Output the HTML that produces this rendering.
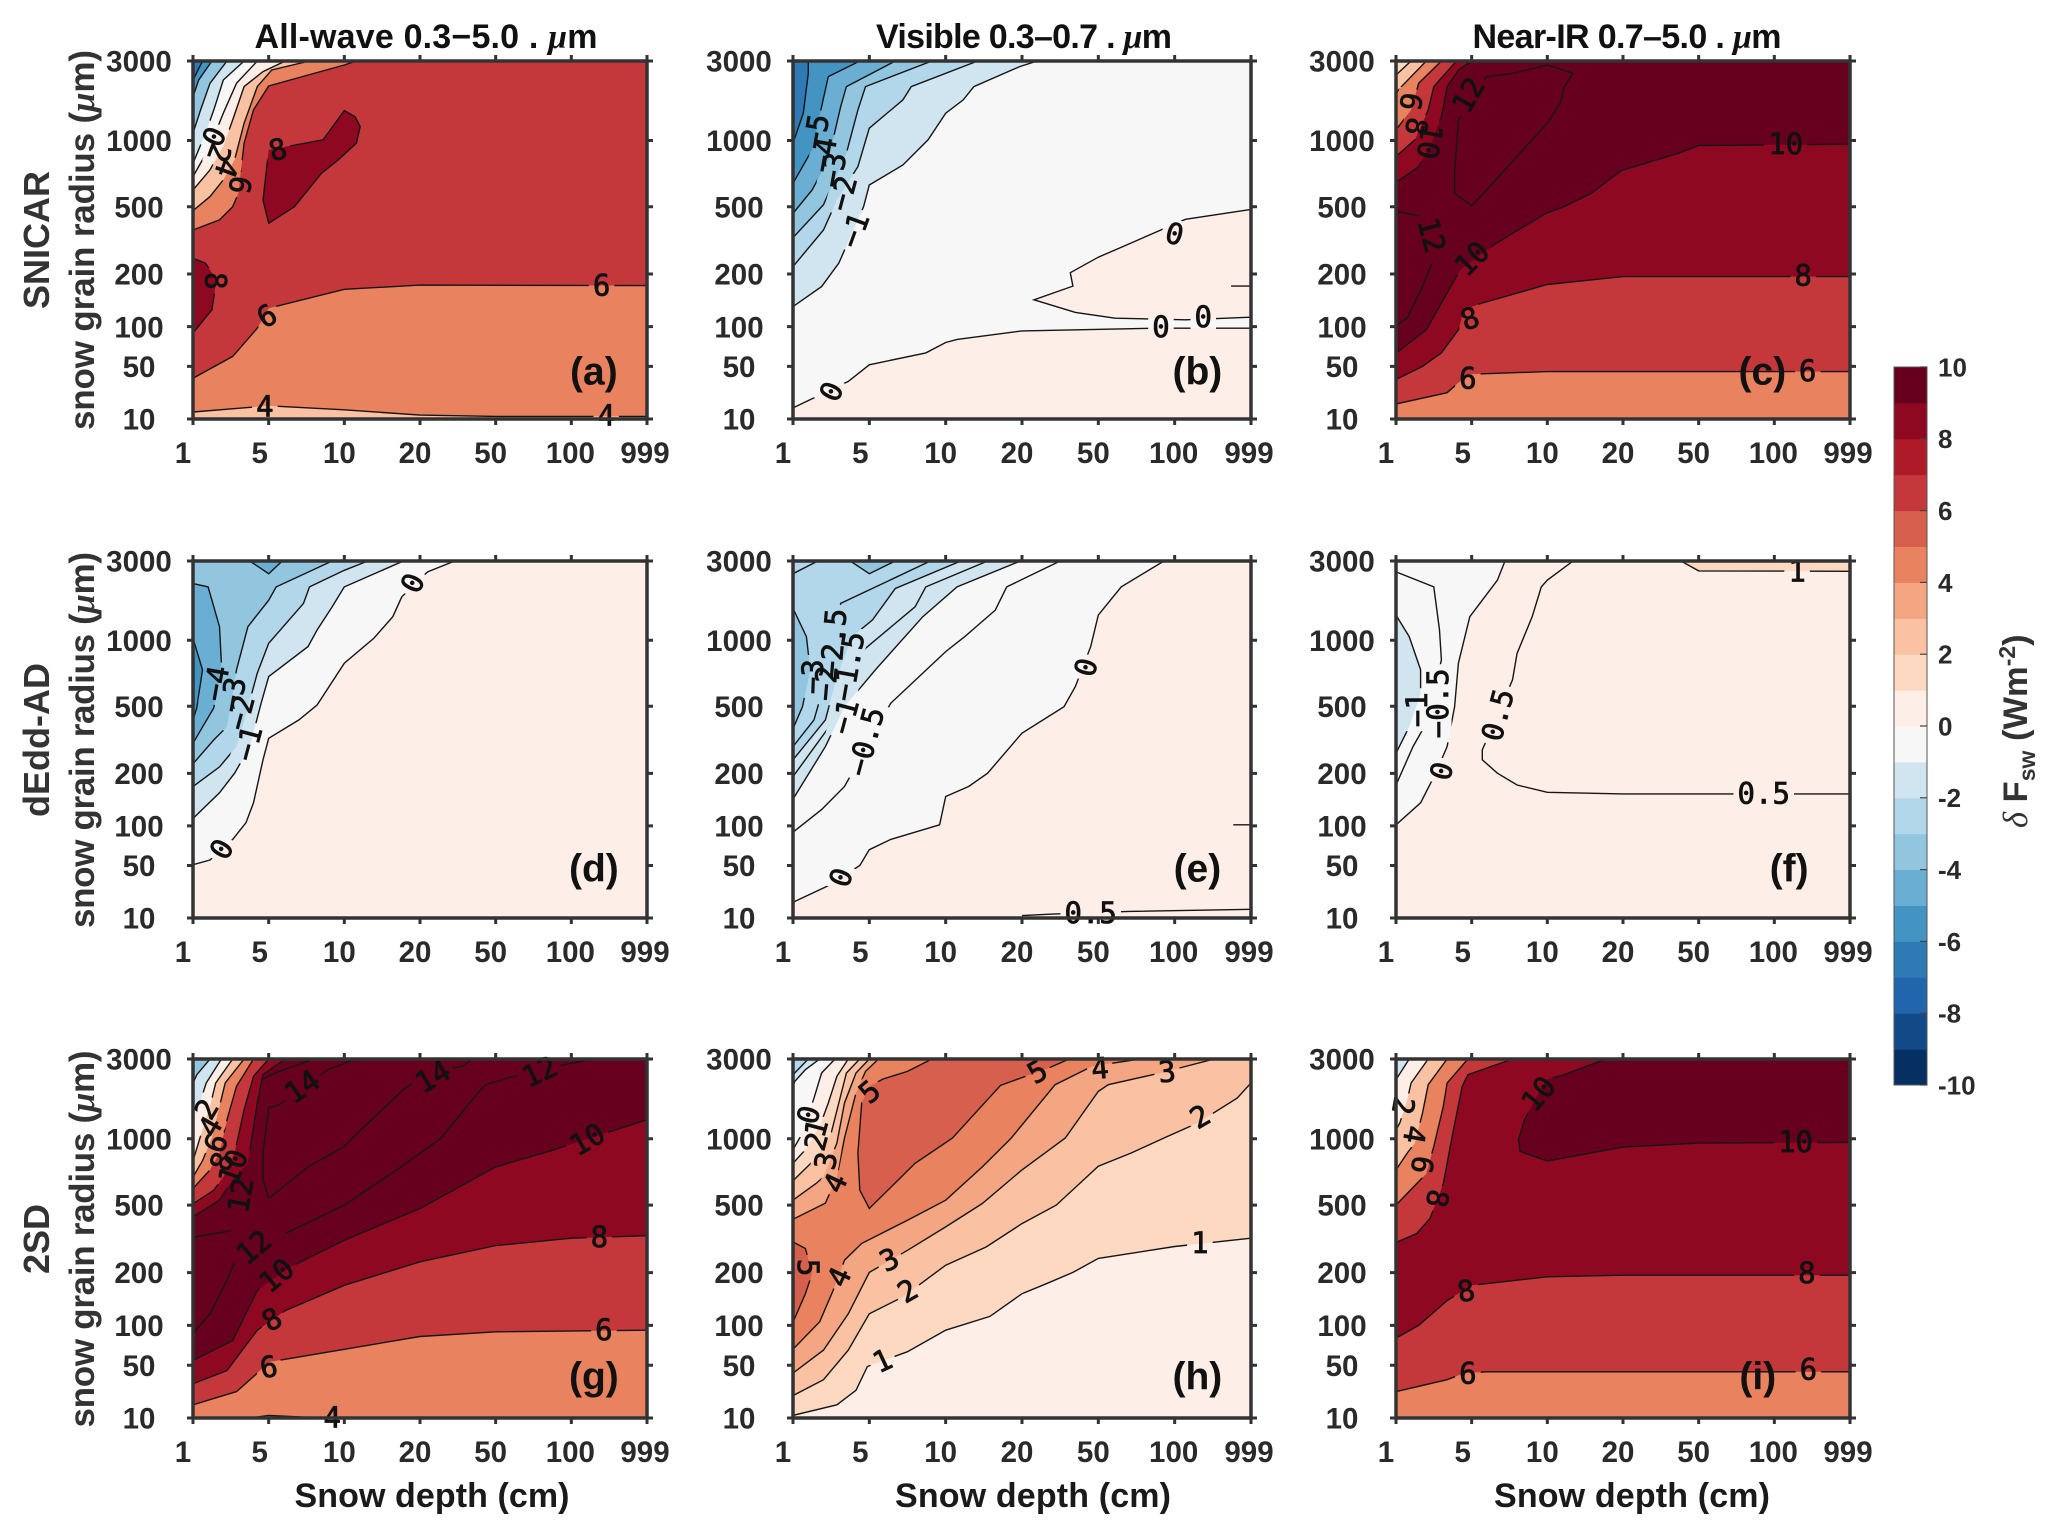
<!DOCTYPE html>
<html lang="en">
<head>
<meta charset="utf-8">
<title>Snow grain radius vs snow depth: shortwave flux differences</title>
<style>
html,body{margin:0;padding:0;background:#fff;width:2067px;height:1538px;overflow:hidden}
svg{display:block}
text{font-family:"Liberation Sans",sans-serif}
.tick{font-size:29.5px;font-weight:700;fill:#2a2a2a}
.head{font-size:34px;font-weight:700;fill:#111}
.side{font-size:35px;font-weight:700;fill:#333}
.row{font-size:36px;font-weight:700;fill:#333}
.xt{font-size:34px;font-weight:700;fill:#1a1a1a}
.cl{font-family:"DejaVu Sans Mono","Liberation Mono",monospace;font-size:29px;fill:#111;stroke:#111;stroke-width:.8px}
.let{font-size:39px;font-weight:700;fill:#111}
.cbt{font-size:26px;font-weight:700;fill:#2a2a2a}
.mu{font-family:"Liberation Serif",serif;font-style:italic}
</style>
</head>
<body>
<svg id="fig" xmlns="http://www.w3.org/2000/svg" width="2067" height="1538" viewBox="0 0 2067 1538">
  <rect width="2067" height="1538" fill="#fff"/>
  <text class="head" x="426" y="48" text-anchor="middle" textLength="343">All-wave  0.3−5.0 . <tspan class="mu">μ</tspan>m</text>
  <text class="head" x="1024" y="48" text-anchor="middle" textLength="296">Visible 0.3–0.7 . <tspan class="mu">μ</tspan>m</text>
  <text class="head" x="1627" y="48" text-anchor="middle" textLength="309">Near-IR 0.7–5.0 . <tspan class="mu">μ</tspan>m</text>

  <text class="row" transform="translate(49 240) rotate(-90)" text-anchor="middle">SNICAR</text>
  <text class="row" transform="translate(49 740) rotate(-90)" text-anchor="middle">dEdd-AD</text>
  <text class="row" transform="translate(49 1239) rotate(-90)" text-anchor="middle">2SD</text>
  <text class="side" transform="translate(94 240) rotate(-90)" text-anchor="middle" textLength="380">snow grain radius (<tspan class="mu">μ</tspan>m)</text>
  <text class="side" transform="translate(94 740) rotate(-90)" text-anchor="middle" textLength="376">snow grain radius (<tspan class="mu">μ</tspan>m)</text>
  <text class="side" transform="translate(94 1239) rotate(-90)" text-anchor="middle" textLength="377">snow grain radius (<tspan class="mu">μ</tspan>m)</text>

  <text class="xt" x="432" y="1507" text-anchor="middle" textLength="275">Snow depth (cm)</text>
  <text class="xt" x="1033" y="1507" text-anchor="middle" textLength="276">Snow depth (cm)</text>
  <text class="xt" x="1632" y="1507" text-anchor="middle" textLength="276">Snow depth (cm)</text>

  <text transform="translate(2027 828) rotate(-90)" font-weight="700" font-size="34.5" fill="#333"><tspan class="mu" font-weight="400">δ</tspan> F<tspan font-size="23" dy="8">sw</tspan><tspan dy="-8">  (Wm</tspan><tspan font-size="23" dy="-12">-2</tspan><tspan dy="12">)</tspan></text>
  <g id="panels"></g>
  <g id="colorbar"></g>
</svg>
<script>
// ---- axis ticks and colour scale ----
const depthTicks = [1, 5, 10, 20, 50, 100, 999];
const radiusTicks = [10, 50, 100, 200, 500, 1000, 3000];
const radiusAxisStops = [0, 0.147, 0.258, 0.405, 0.593, 0.778, 1];
const colorbarTicks = [10, 8, 6, 4, 2, 0, -2, -4, -6, -8, -10];
const bandColors = ["#053061","#124a87","#2166ac","#2f79b5","#4393c3","#6aaed4","#92c5de","#b2d6ea","#d1e5f0","#f7f7f7",
                    "#fdeee7","#fed9c2","#fac1a2","#f4a582","#e8825f","#d6604d","#c4383c","#ae1a27","#8f0821","#67001f"];
const TL = [1, 3000], TR = [999, 3000], BR = [999, 10], BL = [1, 10];

// ---- contour vertices as [depth cm, radius um]; labels as [text, depth, radius, angle] ----
// Panel a
const aLine6Top = [[11.6,3000],[10,2900],[5,2370],[4.2,1770],[3.7,980],[3.4,601],[3.1,500],[2.4,441],[1,396]];
const aLine4Top = [[7.7,3000],[5.2,2774],[4.4,2355],[3.7,1435],[3.2,854],[2.6,702],[1.9,576],[1,482]];
const aLine2Top = [[6.1,3000],[4.7,2732],[3.7,2355],[3.1,1518],[2.6,955],[1.9,778],[1,626]];
const aLine0Top = [[4.4,3000],[3.3,2440],[2.6,1686],[1.9,955],[1,727]];
const aLineM1 = [[3.7,3000],[2.6,2523],[2.1,1770],[1.66,1184],[1,828]];
const aLineM2 = [[2.8,3000],[1.9,2440],[1.4,1770],[1,1184]];
const aLineM4 = [[2,3000],[1.3,2523],[1,2104]];
const aLineM6 = [[1.5,3000],[1,2523]];
const aIsland8 = [[5,929],[8.6,1016],[10,1753],[11.4,1602],[12.1,1351],[11.6,980],[9.6,854],[8.5,753],[6.7,500],[5,426],[4.7,550],[4.9,803],[5,929]];
const aLeft8 = [[1,270],[1.66,248],[2.25,189],[2,132],[1,92]];
const aLower6 = [[1,41],[3.1,62.5],[4.4,98],[5,135],[10,171],[20,179],[999,178]];
const aLower4 = [[1,15.3],[5,20],[10,17],[20,13],[50,12],[999,12]];
const aLabels = [["0",2.1,1100,115],["2",2.4,904,110],["4",2.8,790,110],["6",3.5,664,100],["8",5.6,934,-15],["8",2.2,187,90],["6",4.9,121,-30],["6",460,179,0],["4",4.8,20,0],["4",514,13,0]];

// Panel b
const bLineM1 = [[26,3000],[19.7,2858],[13.7,2355],[12.3,2020],[10,1686],[8.85,1016],[7.2,815],[5,664],[4.7,500],[3.4,248],[2.5,176],[1,138]];
const bLineM2 = [[14.2,3000],[7.75,2355],[7.2,2020],[5,1309],[4.4,803],[3.3,550],[2.6,396],[1,233]];
const bLineM3 = [[9.1,3000],[4.8,2355],[4.4,1770],[3.8,904],[2.6,515],[1,362]];
const bLineM4 = [[6.7,3000],[3.8,2355],[3.5,1853],[2.85,854],[2,626],[1,470]];
const bLineM5 = [[4.5,3000],[2.85,2607],[2.5,1853],[2,929],[1,677]];
const bLineM6 = [[1.8,3000],[1.8,2690],[1.54,1686],[1,980]];
const bLobe0 = [[999,488],[226,444],[66,322],[50,275],[39,206],[40,177],[24.7,151],[41,127],[61,116],[226,113],[999,118]];
const bLower0 = [[1,18.4],[3.9,38.6],[5,52],[8.7,67],[10,80],[11.5,84],[20,94.6],[88,98],[999,98]];
const bSliver0 = [[765,177],[999,177]];
const bLabels = [["−5",2.2,1225,-80],["−4",2.6,892,-80],["−3",3.1,778,-80],["−2",3.6,601,-75],["−1",4.2,396,-70],["0",3,31,-65],["0",100,380,15],["0",91,100,0],["0",437,119,0]];

// Panel c
const cLower10 = [[1,66.6],[2.6,96],[4.1,189],[4.4,218],[6.6,336],[9.9,470],[12.2,500],[15.8,601],[19.8,773],[42,904],[50,962],[999,972]];
const cLower8 = [[1,40],[2.4,50],[3.4,67],[4.3,96],[4.6,132],[5.6,144],[10,180],[20,195],[999,195]];
const cLower6 = [[1,21.4],[3.7,30],[4.8,44],[10,46],[999,46]];
const cUpper10 = [[5,3000],[4.3,2774],[3.7,2355],[3.4,1602],[2.8,955],[2.2,803],[1,682]];
const cUpper8 = [[4.2,3000],[3,2355],[2.7,1770],[2,1016],[1,879]];
const cUpper6 = [[3.4,3000],[2.2,2440],[1.8,1770],[1,1268]];
const cUpper4 = [[2.6,3000],[1.2,2314],[1,2188]];
const cUpper2 = [[1.8,3000],[1,2648]];
const cIsland12 = [[6,2607],[7.5,2674],[10,2900],[13.4,2690],[12.2,2340],[11.7,1937],[10,1435],[8.6,955],[6.8,727],[5,507],[4.1,601],[4.1,753],[4.3,1518],[6,2607]];
const cLeft12a = [[1,481],[2.4,455]];
const cLeft12b = [[2.9,248],[2.4,176],[1.6,117],[1,102]];
const cLabels = [["6",1.8,1979,100],["8",2.1,1351,100],["10",2.8,992,100],["12",4.8,2146,-60],["12",2.9,374,75],["10",5,270,-45],["8",4.9,116,-20],["6",4.8,41,0],["10",235,975,0],["8",442,198,0],["6",496,47,0]];

// Panel d
const dLine0 = [[33.8,3000],[23,2724],[17.6,2096],[16.4,1594],[13.9,1050],[10,826],[8.2,510],[7,439],[5,357],[4.7,261],[4.2,144],[3.8,106],[3.1,83],[1.9,57],[1,51]];
const dLineM1 = [[17.8,3000],[10,2347],[9.2,1845],[8.2,1259],[7.6,952],[5,725],[4.6,523],[4,320],[3.2,201],[2.4,163],[1,114]];
const dLineM2 = [[13.1,3000],[10,2766],[7.7,2347],[7.3,1929],[5,977],[4.4,751],[3.8,463],[3.3,320],[2.4,229],[1,175]];
const dLineM3 = [[9.2,3000],[5.5,2347],[5,2012],[3.9,1343],[3.3,776],[2.8,409],[2.1,350],[1,243]];
const dTopIsland = [[4,3000],[5,2680],[5.9,3000]];
const dLineM4 = [[1,2431],[1.8,2347],[2.4,1343],[2.5,826],[2.1,493],[1,335]];
const dLineM5 = [[1,1050],[1.5,776],[1.2,493],[1,439]];
const dLabels = [["0",19,2448,-65],["−4",2.2,674,-80],["−3",3.1,588,-80],["−2",3.5,472,-75],["−1",3.9,335,-75],["0",2.5,71,-60]];

// Panel e
const eLine0 = [[93,3000],[65,2347],[50,1636],[47,952],[41,650],[36.5,498],[20,380],[15.5,201],[13,175],[10,156],[9.6,102],[6.4,83],[5,70],[4.5,50],[2.9,35],[1,22]];
const eLineM05 = [[35,3000],[18,2347],[16.5,1761],[12.5,1092],[10,914],[6.4,523],[3.7,175],[2.5,131],[1,92]];
const eLineM1 = [[19.8,3000],[11.5,2347],[8.5,1594],[5.4,776],[3.7,498],[2.7,320],[1,151]];
const eLineM15 = [[15.5,3000],[8.7,2347],[8,1845],[4.8,939],[2.9,409],[1,194]];
const eLineM2 = [[12,3000],[6.7,2305],[5.2,1510],[4.1,1092],[3.3,725],[2.7,439],[1,261]];
const eLineM25 = [[9,3000],[3.5,1929],[3.1,901],[2.1,439],[1,320]];
const eLineM3 = [[1,1803],[1.7,1092],[1.9,776],[1.5,498],[1,400]];
const eTopIsland = [[4,3000],[5,2680],[6.7,3000]];
const eCorner = [[1,2680],[2.3,3000]];
const eBottom05 = [[20,11.8],[32,13],[70,15],[999,16.6]];
const eRightStub = [[790,102],[999,102]];
const eLabels = [["0",3.5,41,-70],["0",45,795,-75],["−0.5",4.8,342,-75],["−1",3.7,454,-75],["−1.5",3.9,803,-80],["−2",2.7,674,-85],["−2.5",3.1,977,-85],["−3",2,725,-88],["0.5",47,14,0]];

// Panel f
const fLine0 = [[7.2,3000],[6.7,2515],[4.9,1594],[4.3,826],[4.1,498],[3.7,320],[3.1,201],[2.3,144],[1,102]];
const fLineM05 = [[1,2724],[3,2347],[3.3,1259],[3.4,851],[2.7,439],[1.9,320],[1,178]];
const fLineM1 = [[1,1636],[1.7,1092],[2.3,776],[2.3,598],[1.7,409],[1,290]];
const fLine05 = [[13.4,3000],[10,2515],[9.6,2347],[9,1594],[8,901],[7.7,700],[5.7,305],[5.7,261],[6.7,201],[8,178],[10,164],[20,161],[999,161]];
const fLine1 = [[43,3000],[50,2749],[999,2740]];
const fLabels = [["1",370,2749,0],["0.5",93,163,0],["0.5",6.7,462,-75],["−0.5",3.2,523,-90],["−1",2.1,485,-90],["0",3.4,211,-75]];

// Panel g
const gLower10 = [[1,56],[3.1,81],[4.4,166],[6.4,225],[10,344],[20,485],[50,788],[85,904],[999,1477]];
const gLower8 = [[1,36],[2.8,46],[4.4,94],[6.1,128],[10,176],[20,248],[50,320],[100,353],[999,364]];
const gLower6 = [[1,20],[3.3,30],[4.4,44],[5,54],[10,70],[20,86],[50,92],[999,94]];
const gBottom4 = [[4,10],[5,12],[8.5,10]];
const gLeft12a = [[1,90],[1.9,122],[2.7,179],[3.2,243]];
const gLeft12b = [[1,357],[3,386]];
const gRight12 = [[6.1,374],[10,500],[17.5,788],[28.4,1018],[44,2230],[46,2355],[58,2523],[90,2816],[352,3000]];
const gInner14a = [[5,550],[7.6,788],[10,942],[12.2,1225],[17.8,2230],[23,2690],[37,2816],[40.7,3000]];
const gInner14b = [[5,550],[4.7,691],[4.7,892],[5,1770],[5.7,1853],[8.9,2732],[11.6,3000]];
const gInner14c = [[4.6,2480],[5.5,2660],[8,3000]];
const gUpper10 = [[6.1,3000],[4.7,2607],[4.4,1895],[3.9,815],[3.1,691],[2.4,538],[1,448]];
const gUpper8 = [[5,3000],[4.2,2565],[3.7,1728],[3.2,892],[2.6,711],[2.1,612],[1,510]];
const gUpper6 = [[4.2,3000],[3.3,2314],[2.8,1477],[2.4,892],[1.9,765],[1,626]];
const gUpper4 = [[3.7,3000],[2.7,2397],[2.4,1811],[2,1018],[1.5,834],[1,712]];
const gUpper2 = [[3.1,3000],[2.2,2397],[1.9,1811],[1.5,1225],[1,834]];
const gUpper0 = [[2.5,3000],[1.7,2397],[1.3,1811],[1,1477]];
const gUpperM2 = [[1.9,3000],[1.2,2607],[1,2397]];
const gLabels = [["2",1.7,1745,-60],["4",1.9,1309,-60],["6",2.2,967,-70],["8",2.5,829,-70],["10",3.1,788,-70],["12",3.5,575,-80],["12",4.2,314,-40],["10",5.5,195,-40],["8",5.2,112,-30],["6",5,49,-10],["4",9.2,10.7,0],["14",7.2,2314,-35],["14",25,2565,-30],["12",79,2690,-25],["10",289,997,-30],["8",433,360,0],["6",487,95,0]];

// Panel h
const hLine1 = [[1,12],[3.3,20],[4.3,31],[4.9,49],[7.5,67],[10,94],[15.8,117],[20,160],[29.6,179],[40,201],[50,263],[100,316],[999,353]];
const hLine2 = [[1,27],[2.6,39],[3.9,69],[5,122],[7.2,154],[10,233],[15.3,314],[20,418],[33.5,500],[50,793],[71.5,892],[93,1018],[370,1393],[837,2020],[999,2397]];
const hLine3 = [[1,44],[2.6,69],[3.9,122],[5,201],[7.5,299],[10,403],[14.8,512],[20,765],[37,1018],[50,2188],[56.5,2355],[90.5,2648],[567,3000]];
const hLine4 = [[1,70],[2.4,107],[3.1,166],[3.7,255],[4.6,330],[7.5,433],[10,537],[14.8,788],[18.6,1018],[33,2355],[47.6,2816],[77,3000]];
const hLobeTop5 = [[38.6,3000],[30.5,2774],[17.2,2339],[10.9,1018],[8,815],[5,485],[4.5,612],[4.4,892],[4.6,1895],[5,2314],[5.9,2498],[7.5,2690],[9.1,3000]];
const hLobeLeft5 = [[1,336],[1.65,307],[2,198],[1.65,160],[1,106]];
const hUpper4 = [[5.6,3000],[4.8,2690],[4.3,2146],[3.7,1018],[3.3,712],[2.7,515],[1,437]];
const hUpper3 = [[5,3000],[4.3,2648],[3.7,1895],[3.3,967],[2.6,712],[2.2,662],[1,538]];
const hUpper2 = [[4.5,3000],[3.8,2648],[3.4,1895],[3,1142],[2.3,866],[1,684]];
const hUpper1 = [[3.9,3000],[3.3,2565],[2.85,1895],[2.4,1309],[1.65,917],[1,815]];
const hUpper0 = [[3.2,3000],[2.5,2648],[2.1,2020],[1.5,1142],[1,917]];
const hUpperM1 = [[2.4,3000],[1.65,2732],[1.1,2440],[1,2314]];
const hUpperM2 = [[1.8,3000],[1,2607]];
const hLabels = [["5",1.8,222,90],["4",3.4,192,-65],["3",6.3,259,-25],["2",7.5,166,-30],["1",5.85,56,-25],["5",5,2188,-40],["4",3.2,668,-65],["3",2.7,834,-80],["2",2.2,980,-75],["0",1.8,1602,-75],["1",2.2,1268,-75],["5",26,2690,-30],["4",51,2774,-5],["3",95,2690,-5],["2",397,1560,-30],["1",397,333,0]];

// Panel i
const iIsland10 = [[17.8,3000],[12.2,2607],[9.9,2480],[8.5,1477],[8.1,992],[8.2,904],[10,832],[20,937],[50,967],[999,972]];
const iLower8 = [[1,84],[2.2,100],[3.7,147],[5,176],[10,192],[20,195],[999,195]];
const iLower6 = [[1,30],[3.7,39],[4.6,44],[6,45],[999,45]];
const iUpper8 = [[7.7,3000],[4.8,2607],[4.5,2314],[4,1142],[3.5,662],[2.8,441],[2.1,374],[1,334]];
const iUpper6 = [[4.8,3000],[3.7,2397],[3.5,1811],[3,942],[2.6,737],[1,500]];
const iUpper4 = [[3.7,3000],[2.7,2355],[2.4,1644],[2,967],[1.6,892],[1,765]];
const iUpper2 = [[2.7,3000],[1.8,2397],[1.6,1979],[1.2,1393],[1,1225]];
const iUpper0 = [[1.7,3000],[1,2480]];
const iLabels = [["10",9.4,2130,-50],["2",1.4,1828,100],["4",2,1100,100],["6",2.4,803,100],["8",3.2,550,100],["8",4.7,166,-10],["6",4.8,44,0],["10",352,980,0],["8",487,200,0],["6",505,47,0]];

// ---- layout ----
const columnLeft = [193, 793, 1396];
const columnRight = [647, 1251, 1850];
const rowTop = [61, 561, 1059];
const rowBottom = [419, 918, 1418];
const tickLabelNudge = [-10, -9, -5, -5, -5, -1, -2];

const panels = [
 {id:"a",col:0,row:0,base:6.5,lx:.883,ly:.866,labels:aLabels,layers:[
  {line:aLine6Top,band:4.5,close:[TL]},{line:aLine4Top,band:2.5,close:[TL]},{line:aLine2Top,band:0.5,close:[TL]},
  {line:aLine0Top,band:-0.5,close:[TL]},{line:aLineM1,band:-1.5,close:[TL]},{line:aLineM2,band:-3.5,close:[TL]},
  {line:aLineM4,band:-5.5,close:[TL]},{line:aLineM6,band:-6.5,close:[TL]},
  {line:aIsland8,band:8.5,close:[]},{line:aLeft8,band:8.5,close:[]},
  {line:aLower6,band:4.5,close:[BR,BL]},{line:aLower4,band:2.5,close:[BR,BL]}]},
 {id:"b",col:1,row:0,base:-0.5,lx:.883,ly:.866,labels:bLabels,layers:[
  {line:bLineM1,band:-1.5,close:[TL]},{line:bLineM2,band:-2.5,close:[TL]},{line:bLineM3,band:-3.5,close:[TL]},
  {line:bLineM4,band:-4.5,close:[TL]},{line:bLineM5,band:-5.5,close:[TL]},{line:bLineM6,band:-6.5,close:[TL]},
  {line:bLobe0,band:0.5,close:[]},{line:bLower0,band:0.5,close:[BR,BL]},{line:bSliver0,band:null,close:[]}]},
 {id:"c",col:2,row:0,base:9.5,lx:.807,ly:.866,labels:cLabels,layers:[
  {line:cLower10,band:8.5,close:[BR,BL]},{line:cLower8,band:6.5,close:[BR,BL]},{line:cLower6,band:4.5,close:[BR,BL]},
  {line:cUpper10,band:8.5,close:[TL]},{line:cUpper8,band:6.5,close:[TL]},{line:cUpper6,band:4.5,close:[TL]},
  {line:cUpper4,band:2.5,close:[TL]},{line:cUpper2,band:1.5,close:[TL]},
  {line:cIsland12,band:null,close:[]},{line:cLeft12a,band:null,close:[]},{line:cLeft12b,band:null,close:[]}]},
 {id:"d",col:0,row:1,base:0.5,lx:.883,ly:.86,labels:dLabels,layers:[
  {line:dLine0,band:-0.5,close:[TL]},{line:dLineM1,band:-1.5,close:[TL]},{line:dLineM2,band:-2.5,close:[TL]},
  {line:dLineM3,band:-3.5,close:[TL]},{line:dTopIsland,band:-4.5,close:[]},{line:dLineM4,band:-4.5,close:[]},{line:dLineM5,band:-5.5,close:[]}]},
 {id:"e",col:1,row:1,base:0.5,lx:.883,ly:.86,labels:eLabels,layers:[
  {line:eLine0,band:-0.5,close:[TL]},{line:eLineM05,band:null,close:[]},{line:eLineM1,band:-1.5,close:[TL]},
  {line:eLineM15,band:null,close:[]},{line:eLineM2,band:-2.5,close:[TL]},{line:eLineM25,band:null,close:[]},
  {line:eLineM3,band:-3.5,close:[]},{line:eTopIsland,band:-3.5,close:[]},{line:eCorner,band:null,close:[]},
  {line:eBottom05,band:null,close:[]},{line:eRightStub,band:null,close:[]}]},
 {id:"f",col:2,row:1,base:0.5,lx:.866,ly:.86,labels:fLabels,layers:[
  {line:fLine0,band:-0.5,close:[TL]},{line:fLineM05,band:null,close:[]},{line:fLineM1,band:-1.5,close:[]},
  {line:fLine05,band:null,close:[]},{line:fLine1,band:1.5,close:[TR]}]},
 {id:"g",col:0,row:2,base:9.5,lx:.883,ly:.882,labels:gLabels,layers:[
  {line:gLower10,band:8.5,close:[BR,BL]},{line:gLower8,band:6.5,close:[BR,BL]},{line:gLower6,band:4.5,close:[BR,BL]},
  {line:gBottom4,band:null,close:[]},{line:gLeft12a,band:null,close:[]},{line:gLeft12b,band:null,close:[]},
  {line:gRight12,band:null,close:[]},{line:gInner14a,band:null,close:[]},{line:gInner14b,band:null,close:[]},{line:gInner14c,band:null,close:[]},
  {line:gUpper10,band:8.5,close:[TL]},{line:gUpper8,band:6.5,close:[TL]},{line:gUpper6,band:4.5,close:[TL]},
  {line:gUpper4,band:2.5,close:[TL]},{line:gUpper2,band:0.5,close:[TL]},{line:gUpper0,band:-1.5,close:[TL]},{line:gUpperM2,band:-3.5,close:[TL]}]},
 {id:"h",col:1,row:2,base:0.5,lx:.883,ly:.882,labels:hLabels,layers:[
  {line:hLine1,band:1.5,close:[TR,TL]},{line:hLine2,band:2.5,close:[TR,TL]},{line:hLine3,band:3.5,close:[TL]},
  {line:hLine4,band:4.5,close:[TL]},{line:hLobeTop5,band:5.5,close:[]},{line:hLobeLeft5,band:5.5,close:[]},
  {line:hUpper4,band:3.5,close:[TL]},{line:hUpper3,band:2.5,close:[TL]},{line:hUpper2,band:1.5,close:[TL]},
  {line:hUpper1,band:0.5,close:[TL]},{line:hUpper0,band:-0.5,close:[TL]},{line:hUpperM1,band:-1.5,close:[TL]},{line:hUpperM2,band:-2.5,close:[TL]}]},
 {id:"i",col:2,row:2,base:8.5,lx:.797,ly:.882,labels:iLabels,layers:[
  {line:iIsland10,band:9.5,close:[TR]},{line:iLower8,band:6.5,close:[BR,BL]},{line:iLower6,band:4.5,close:[BR,BL]},
  {line:iUpper8,band:6.5,close:[TL]},{line:iUpper6,band:4.5,close:[TL]},{line:iUpper4,band:2.5,close:[TL]},
  {line:iUpper2,band:0.5,close:[TL]},{line:iUpper0,band:-1.5,close:[TL]}]}
];

const NS = "http://www.w3.org/2000/svg";
function mk(tag, attrs, parent){
  const el = document.createElementNS(NS, tag);
  for (const k in attrs) el.setAttribute(k, attrs[k]);
  parent.appendChild(el);
  return el;
}
function stopFraction(value, ticks, stops){
  if (value <= ticks[0]) return stops[0];
  for (let i = 1; i < ticks.length; i++){
    if (value <= ticks[i]){
      return stops[i-1] + (value - ticks[i-1]) / (ticks[i] - ticks[i-1]) * (stops[i] - stops[i-1]);
    }
  }
  return stops[stops.length-1];
}
const depthStops = depthTicks.map((_, i) => i / (depthTicks.length - 1));
function xScale(p, depth){
  const l = columnLeft[p.col], r = columnRight[p.col];
  return l + stopFraction(depth, depthTicks, depthStops) * (r - l);
}
function yScale(p, radius){
  const t = rowTop[p.row], b = rowBottom[p.row];
  return b - stopFraction(radius, radiusTicks, radiusAxisStops) * (b - t);
}
function bandColor(v){
  return bandColors[Math.max(0, Math.min(19, Math.floor(v) + 10))];
}
function pointString(p, pts){
  return pts.map(q => xScale(p, q[0]).toFixed(1) + "," + yScale(p, q[1]).toFixed(1)).join(" ");
}

const root = document.getElementById("panels");
panels.forEach(p => {
  const L = columnLeft[p.col], R = columnRight[p.col], T = rowTop[p.row], B = rowBottom[p.row];
  const g = mk("g", {}, root);
  
  

  const clip = mk("clipPath", {id: "clip-" + p.id}, g);
  mk("rect", {x: L, y: T, width: R - L, height: B - T}, clip);

  // Mask that breaks the contour lines behind each label, leaving the fills intact.
  const mask = mk("mask", {id: "gap-" + p.id, maskUnits: "userSpaceOnUse", x: L - 10, y: T - 10, width: R - L + 20, height: B - T + 20}, g);
  mk("rect", {x: L - 10, y: T - 10, width: R - L + 20, height: B - T + 20, fill: "#fff"}, mask);
  p.labels.forEach(lab => {
    const x = xScale(p, lab[1]), y = yScale(p, lab[2]);
    const w = lab[0].length * 17.5 + 8, h = 28;
    mk("rect", {x: x - w / 2, y: y - h / 2, width: w, height: h, fill: "#000",
      transform: "rotate(" + lab[3] + " " + x.toFixed(1) + " " + y.toFixed(1) + ")"}, mask);
  });

  const plot = mk("g", {"clip-path": "url(#clip-" + p.id + ")"}, g);
  const baseRect = mk("rect", {x: L, y: T, width: R - L, height: B - T, fill: bandColor(p.base)}, plot);
  
  

  p.layers.forEach(layer => {
    if (layer.band === null) return;
    const poly = mk("polygon", {points: pointString(p, layer.line.concat(layer.close)), fill: bandColor(layer.band)}, plot);
    
    
  });
  const lineGroup = mk("g", {mask: "url(#gap-" + p.id + ")"}, plot);
  p.layers.forEach(layer => {
    const line = mk("polyline", {points: pointString(p, layer.line), fill: "none", stroke: "#151515", "stroke-width": 1.4}, lineGroup);
    
    
  });
  p.labels.forEach(lab => {
    const x = xScale(p, lab[1]), y = yScale(p, lab[2]);
    const t = mk("text", {class: "cl", x: x, y: y, dy: "0.36em", "text-anchor": "middle",
      transform: "rotate(" + lab[3] + " " + x.toFixed(1) + " " + y.toFixed(1) + ")"}, g);
    t.textContent = lab[0];
    
    
  });

  const frame = mk("rect", {x: L, y: T, width: R - L, height: B - T, fill: "none", stroke: "#333", "stroke-width": 3.5}, g);
  
  

  depthTicks.forEach((d, i) => {
    const x = xScale(p, d);
    const tick = mk("path", {d: "M" + x + " " + (T - 6) + "V" + T + "M" + x + " " + B + "V" + (B + 6), stroke: "#333", "stroke-width": 3, fill: "none"}, g);
    
    
    const t = mk("text", {class: "tick", x: x + tickLabelNudge[i], y: B + 44, "text-anchor": "middle"}, g);
    t.textContent = d;
    
    
  });
  radiusTicks.forEach(r => {
    const y = yScale(p, r);
    const tick = mk("path", {d: "M" + (L - 6) + " " + y + "H" + L + "M" + R + " " + y + "H" + (R + 6), stroke: "#333", "stroke-width": 3, fill: "none"}, g);
    
    
    const t = mk("text", {class: "tick", x: L - 54, y: y, dy: "0.36em", "text-anchor": "middle"}, g);
    t.textContent = r;
    
    
  });

  const letter = mk("text", {class: "let", x: L + p.lx * (R - L), y: T + p.ly * (B - T), dy: "0.35em", "text-anchor": "middle"}, g);
  letter.textContent = "(" + p.id + ")";
  
  
});

// ---- colorbar ----
const cb = document.getElementById("colorbar");
const cbL = 1894, cbR = 1927, cbT = 367, cbB = 1085;
function cbY(v){ return cbB - (v + 10) / 20 * (cbB - cbT); }
bandColors.forEach((c, i) => {
  const v = i - 10;
  const r = mk("rect", {x: cbL, y: cbY(v + 1), width: cbR - cbL, height: cbY(v) - cbY(v + 1) + 0.5, fill: c}, cb);
  
  
});
const cbFrame = mk("rect", {x: cbL, y: cbT, width: cbR - cbL, height: cbB - cbT, fill: "none", stroke: "#555", "stroke-width": 1}, cb);


colorbarTicks.forEach(v => {
  const y = cbY(v);
  const tick = mk("line", {x1: cbR - 7, x2: cbR, y1: y, y2: y, stroke: "#444", "stroke-width": 1.2}, cb);
  
  
  const t = mk("text", {class: "cbt", x: 1938, y: y, dy: "0.36em"}, cb);
  t.textContent = v;
  
  
});
</script>
</body>
</html>
